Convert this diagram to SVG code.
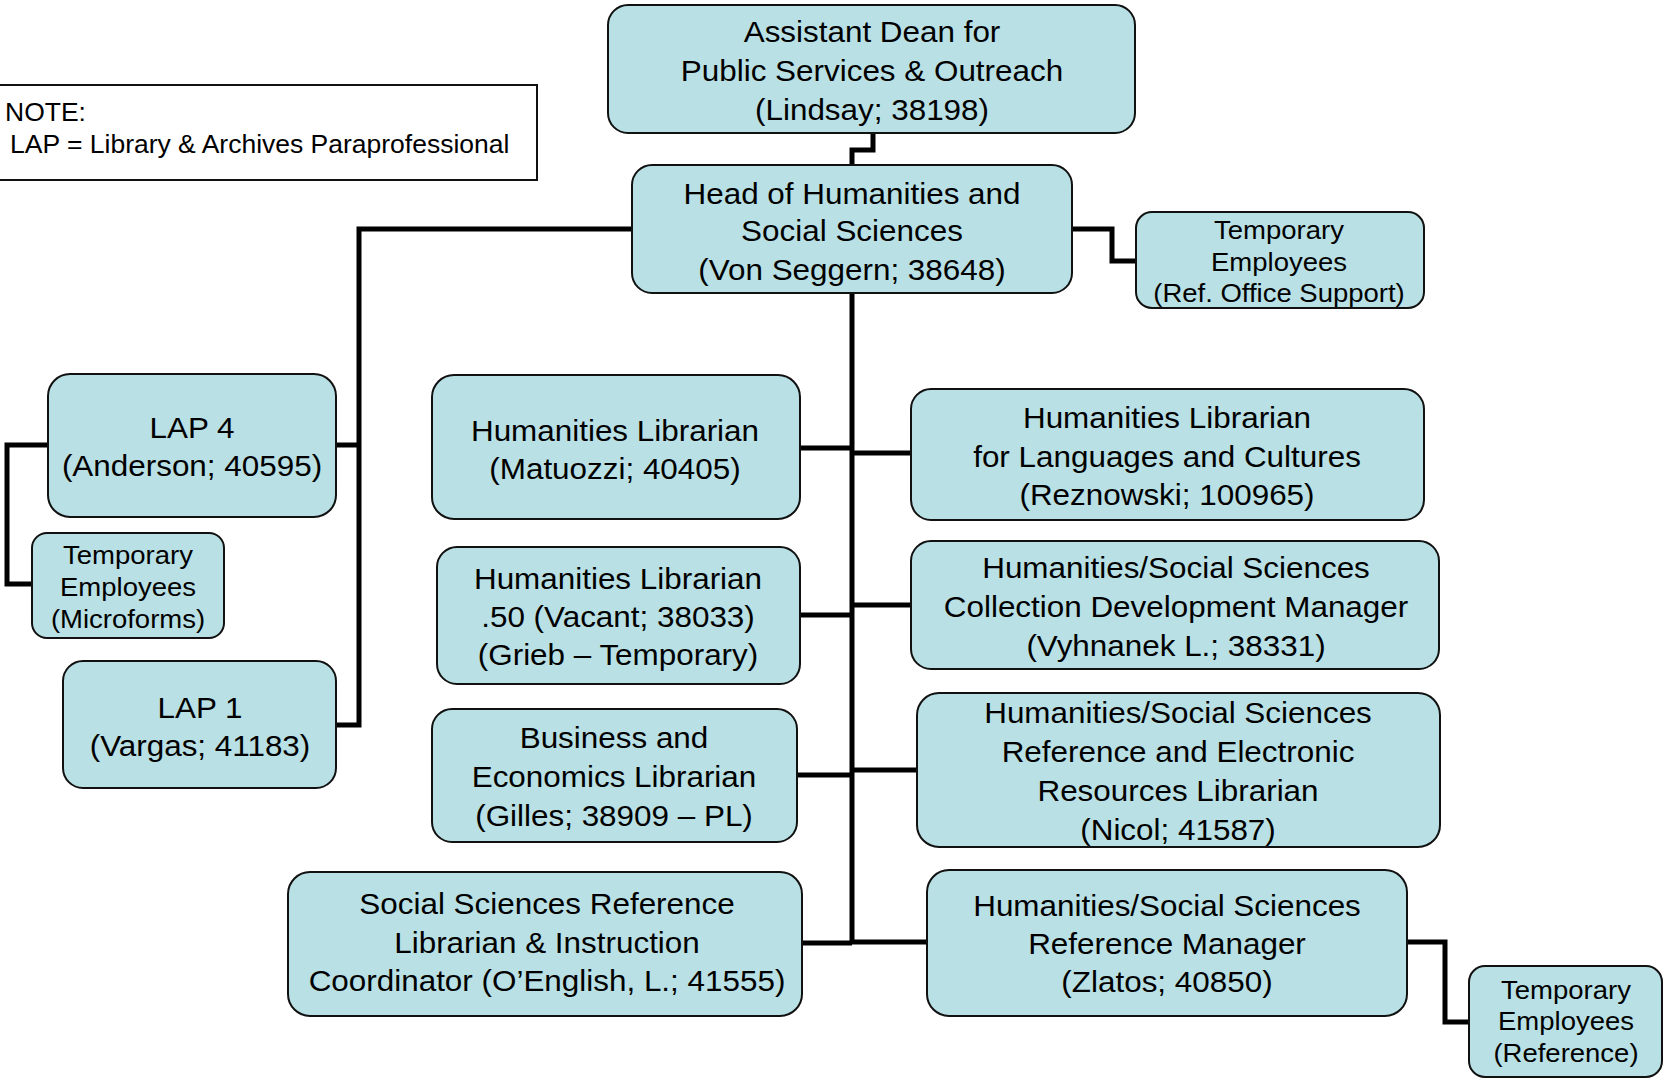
<svg xmlns="http://www.w3.org/2000/svg" width="1664" height="1081" viewBox="0 0 1664 1081">
<style>
.box{fill:#B9E0E4;stroke:#111;stroke-width:2}
.note{fill:#fff;stroke:#111;stroke-width:2}
.t{font-family:"Liberation Sans",Arial,sans-serif;font-size:29.5px;fill:#000;text-anchor:middle}
.s{font-family:"Liberation Sans",Arial,sans-serif;font-size:25px;fill:#000;text-anchor:middle}
.n{font-family:"Liberation Sans",Arial,sans-serif;font-size:25px;fill:#000}
.c{fill:none;stroke:#000;stroke-width:5;stroke-linejoin:miter}
</style>
<rect width="1664" height="1081" fill="#fff"/>
<g id="connectors">
<path class="c" d="M873,133 V150 H852 V165"/>
<path class="c" d="M1072,229 H1112 V261 H1136"/>
<path class="c" d="M632,229 H359 V725 H336"/>
<path class="c" d="M336,445 H359"/>
<path class="c" d="M48,445 H7 V584 H32"/>
<path class="c" d="M852,293 V943"/>
<path class="c" d="M800,448 H852"/>
<path class="c" d="M800,615 H852"/>
<path class="c" d="M797,775 H852"/>
<path class="c" d="M802,943 H852"/>
<path class="c" d="M852,453 H911"/>
<path class="c" d="M852,605 H911"/>
<path class="c" d="M852,770 H917"/>
<path class="c" d="M852,942 H927"/>
<path class="c" d="M1407,942 H1445 V1022 H1469"/>
</g>
<g id="note">
<rect class="note" x="-2" y="85" width="539" height="95"/>
<text class="n" transform="translate(5 0) scale(1.06 1)"><tspan x="0" y="121">NOTE:</tspan></text>
<text class="n" transform="translate(10 0) scale(1.06 1)"><tspan x="0" y="153">LAP = Library &amp; Archives Paraprofessional</tspan></text>
</g>
<g id="assistant-dean">
<rect class="box" x="608" y="5" width="527" height="128" rx="20"/>
<text class="t" transform="translate(872 0) scale(1.065 1)"><tspan x="0" y="42">Assistant Dean for</tspan><tspan x="0" y="81">Public Services &amp; Outreach</tspan><tspan x="0" y="120">(Lindsay; 38198)</tspan></text>
</g>
<g id="head">
<rect class="box" x="632" y="165" width="440" height="128" rx="20"/>
<text class="t" transform="translate(852 0) scale(1.065 1)"><tspan x="0" y="204">Head of Humanities and</tspan><tspan x="0" y="241">Social Sciences</tspan><tspan x="0" y="280">(Von Seggern; 38648)</tspan></text>
</g>
<g id="temp-ref-office">
<rect class="box" x="1136" y="212" width="288" height="96" rx="16"/>
<text class="s" transform="translate(1279 0) scale(1.1 1)"><tspan x="0" y="239">Temporary</tspan><tspan x="0" y="271">Employees</tspan><tspan x="0" y="302">(Ref. Office Support)</tspan></text>
</g>
<g id="lap4">
<rect class="box" x="48" y="374" width="288" height="143" rx="22"/>
<text class="t" transform="translate(192 0) scale(1.065 1)"><tspan x="0" y="438">LAP 4</tspan><tspan x="0" y="476">(Anderson; 40595)</tspan></text>
</g>
<g id="temp-microforms">
<rect class="box" x="32" y="533" width="192" height="105" rx="15"/>
<text class="s" transform="translate(128 0) scale(1.1 1)"><tspan x="0" y="564">Temporary</tspan><tspan x="0" y="596">Employees</tspan><tspan x="0" y="628">(Microforms)</tspan></text>
</g>
<g id="lap1">
<rect class="box" x="63" y="661" width="273" height="127" rx="20"/>
<text class="t" transform="translate(200 0) scale(1.065 1)"><tspan x="0" y="718">LAP 1</tspan><tspan x="0" y="756">(Vargas; 41183)</tspan></text>
</g>
<g id="hum-matuozzi">
<rect class="box" x="432" y="375" width="368" height="144" rx="22"/>
<text class="t" transform="translate(615 0) scale(1.065 1)"><tspan x="0" y="441">Humanities Librarian</tspan><tspan x="0" y="479">(Matuozzi; 40405)</tspan></text>
</g>
<g id="hum-vacant">
<rect class="box" x="437" y="547" width="363" height="137" rx="20"/>
<text class="t" transform="translate(618 0) scale(1.065 1)"><tspan x="0" y="589">Humanities Librarian</tspan><tspan x="0" y="627">.50 (Vacant; 38033)</tspan><tspan x="0" y="665">(Grieb – Temporary)</tspan></text>
</g>
<g id="business">
<rect class="box" x="432" y="709" width="365" height="133" rx="20"/>
<text class="t" transform="translate(614 0) scale(1.065 1)"><tspan x="0" y="748">Business and</tspan><tspan x="0" y="787">Economics Librarian</tspan><tspan x="0" y="826">(Gilles; 38909 – PL)</tspan></text>
</g>
<g id="social-sciences-ref">
<rect class="box" x="288" y="872" width="514" height="144" rx="22"/>
<text class="t" transform="translate(547 0) scale(1.065 1)"><tspan x="0" y="914">Social Sciences Reference</tspan><tspan x="0" y="953">Librarian &amp; Instruction</tspan><tspan x="0" y="991">Coordinator (O’English, L.; 41555)</tspan></text>
</g>
<g id="hum-reznowski">
<rect class="box" x="911" y="389" width="513" height="131" rx="20"/>
<text class="t" transform="translate(1167 0) scale(1.065 1)"><tspan x="0" y="428">Humanities Librarian</tspan><tspan x="0" y="467">for Languages and Cultures</tspan><tspan x="0" y="505">(Reznowski; 100965)</tspan></text>
</g>
<g id="hss-collection">
<rect class="box" x="911" y="541" width="528" height="128" rx="20"/>
<text class="t" transform="translate(1176 0) scale(1.065 1)"><tspan x="0" y="578">Humanities/Social Sciences</tspan><tspan x="0" y="617">Collection Development Manager</tspan><tspan x="0" y="656">(Vyhnanek L.; 38331)</tspan></text>
</g>
<g id="hss-reference-electronic">
<rect class="box" x="917" y="693" width="523" height="154" rx="22"/>
<text class="t" transform="translate(1178 0) scale(1.065 1)"><tspan x="0" y="723">Humanities/Social Sciences</tspan><tspan x="0" y="762">Reference and Electronic</tspan><tspan x="0" y="801">Resources Librarian</tspan><tspan x="0" y="840">(Nicol; 41587)</tspan></text>
</g>
<g id="hss-reference-manager">
<rect class="box" x="927" y="870" width="480" height="146" rx="22"/>
<text class="t" transform="translate(1167 0) scale(1.065 1)"><tspan x="0" y="916">Humanities/Social Sciences</tspan><tspan x="0" y="954">Reference Manager</tspan><tspan x="0" y="992">(Zlatos; 40850)</tspan></text>
</g>
<g id="temp-reference">
<rect class="box" x="1469" y="966" width="193" height="111" rx="16"/>
<text class="s" transform="translate(1566 0) scale(1.1 1)"><tspan x="0" y="999">Temporary</tspan><tspan x="0" y="1030">Employees</tspan><tspan x="0" y="1062">(Reference)</tspan></text>
</g>
</svg>
